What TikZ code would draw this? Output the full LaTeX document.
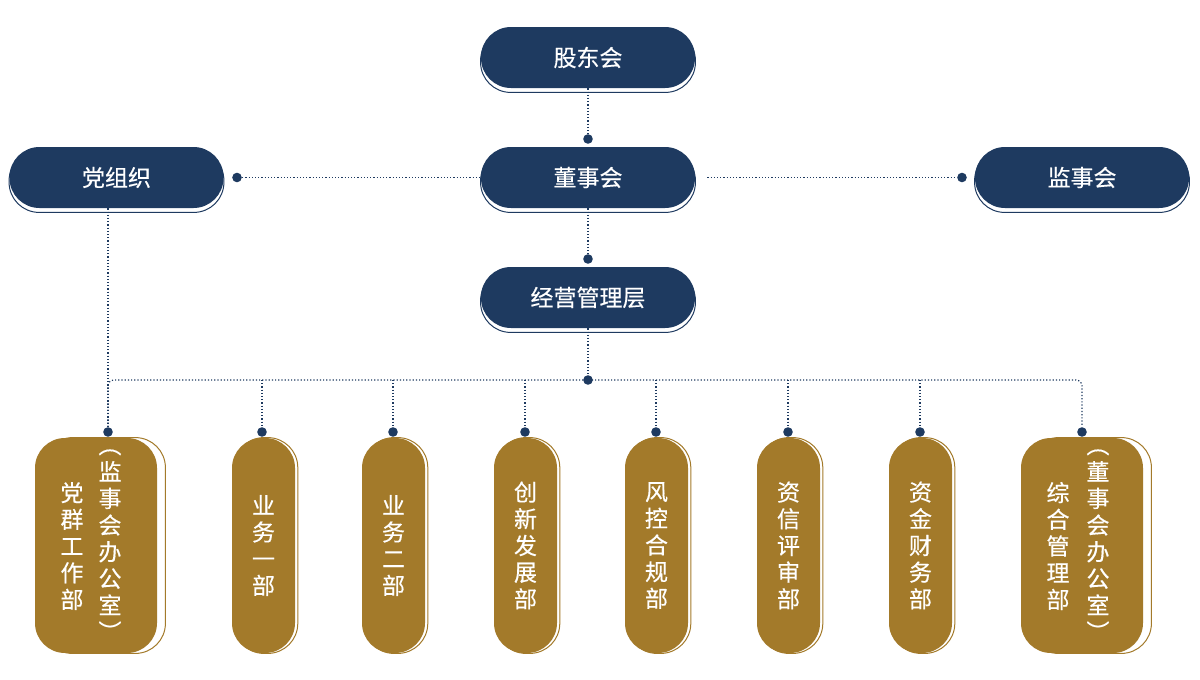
\documentclass[tikz,border=0pt]{standalone}
\usepackage{fontspec}
\setmainfont{Noto Sans CJK SC}[AutoFakeBold=0.4]
\usetikzlibrary{backgrounds}
\definecolor{navy}{RGB}{30,58,96}
\definecolor{gold}{RGB}{163,122,42}

\begin{document}
\begin{tikzpicture}[x=0.5pt,y=-0.5pt,
    topbox/.style={rounded corners=15pt,fill=navy,text=white,minimum width=107pt,minimum height=30.5pt,font=\fontsize{11.5}{13.4}\selectfont\bfseries},
    deptbox/.style={rounded corners=15pt,fill=gold,text=white,minimum width=31.5pt,minimum height=107.5pt,align=center,font=\fontsize{11.5}{13.35}\selectfont\bfseries},
    widebox/.style={deptbox,minimum width=61pt},
    coltext/.style={text=white,align=center,inner sep=0pt,font=\fontsize{11.5}{13.35}\selectfont\bfseries},
    link/.style={navy,densely dotted,line width=0.6pt},
    dot/.style={circle,fill=navy,inner sep=0pt,minimum size=4.8pt}]
    \useasboundingbox (0,0) rectangle (1200,680);

    % upper levels
    \node[topbox] (share) at (588,57.5) {股东会};
    \node[topbox] (board) at (588,177.5) {董事会};
    \node[topbox] (party) at (116.5,177.5) {党组织};
    \node[topbox] (super) at (1082,177.5) {监事会};
    \node[topbox] (mgmt) at (588,297.5) {经营管理层};

    % departments
    \node[widebox] (dept1) at (96,545.5) {};
    \node[coltext] (dept1a) at (72,546) {党\\群\\工\\作\\部};
    \node[coltext] (dept1b) at (110,545) {︵\\监\\事\\会\\办\\公\\室\\︶};
    \node[deptbox] (dept2) at (263.5,545.5) {业\\务\\一\\部};
    \node[deptbox] (dept3) at (393.5,545.5) {业\\务\\二\\部};
    \node[deptbox] (dept4) at (525.5,545.5) {创\\新\\发\\展\\部};
    \node[deptbox] (dept5) at (656.5,545.5) {风\\控\\合\\规\\部};
    \node[deptbox] (dept6) at (788.5,545.5) {资\\信\\评\\审\\部};
    \node[deptbox] (dept7) at (920.5,545.5) {资\\金\\财\\务\\部};
    \node[widebox] (dept8) at (1082,545.5) {};
    \node[coltext] (dept8a) at (1058,546) {综\\合\\管\\理\\部};
    \node[coltext] (dept8b) at (1098,545) {︵\\董\\事\\会\\办\\公\\室\\︶};

    % copy shadows
    \begin{scope}[on background layer]
        \foreach \n in {share,board,party,super,mgmt}
            \draw[navy,fill=white,line width=0.5pt,rounded corners=15pt]
                ([yshift=-2pt]\n.north west) rectangle ([yshift=-2pt]\n.south east);
        \foreach \n/\s in {dept1/4pt,dept2/1.2pt,dept3/1.2pt,dept4/1.2pt,dept5/1.2pt,dept6/1.2pt,dept7/1.2pt,dept8/4pt}
            \draw[gold,fill=white,line width=0.5pt,rounded corners=15pt]
                ([xshift=\s]\n.north west) rectangle ([xshift=\s]\n.south east);
    \end{scope}

    % dots
    \node[dot] (sdot) at (588,139) {};
    \node[dot] (bdot) at (588,259) {};
    \node[dot] (pdot) at (237,177.5) {};
    \node[dot] (vdot) at (962,177.5) {};
    \node[dot] (bus) at (588,380) {};
    \node[dot] (dd1) at (108,432) {};
    \node[dot] (dd2) at (262,432) {};
    \node[dot] (dd3) at (393,432) {};
    \node[dot] (dd4) at (525,432) {};
    \node[dot] (dd5) at (656,432) {};
    \node[dot] (dd6) at (788,432) {};
    \node[dot] (dd7) at (920,432) {};
    \node[dot] (dd8) at (1082,432) {};
    \coordinate (bright) at ([xshift=6pt]board.east);

    % connectors
    \draw[link] (share) -- (sdot);
    \draw[link] (board) -- (bdot);
    \draw[link] (mgmt) -- (bus);
    \draw[link] (pdot) -- (board);
    \draw[link] (bright) -- (vdot);
    \draw[link] (party.south -| dd1) -- (dd1);
    \draw[link,rounded corners=3pt] (dd1) -- (dd1 |- bus) -- (dd8 |- bus) -- (dd8);
    \foreach \i in {2,...,7}
        \draw[link] (dd\i |- bus) -- (dd\i);
\end{tikzpicture}
\end{document}
